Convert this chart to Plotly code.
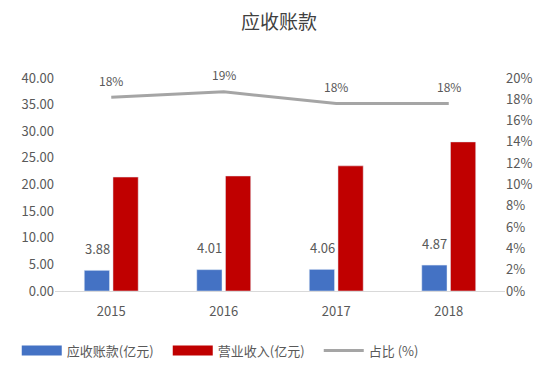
import plotly.graph_objects as go

years = ["2015", "2016", "2017", "2018"]
receivables = [3.88, 4.01, 4.06, 4.87]
revenue = [21.4, 21.6, 23.5, 28.0]
ratio = [18.2, 18.7, 17.6, 17.6]
ratio_labels = ["18%", "19%", "18%", "18%"]
left_ticks = [0, 5, 10, 15, 20, 25, 30, 35, 40]
right_ticks = [0, 2, 4, 6, 8, 10, 12, 14, 16, 18, 20]

FONT = "Noto Sans CJK SC"
TXT = "#595959"
BLUE, RED, GRAY = "#4472C4", "#C00000", "#A5A5A5"

fig = go.Figure()
fig.add_trace(go.Bar(x=years, y=receivables, name="应收账款(亿元)",
                     marker_color=BLUE, showlegend=False))
fig.add_trace(go.Bar(x=years, y=revenue, name="营业收入(亿元)",
                     marker_color=RED, showlegend=False))
fig.add_trace(go.Scatter(x=years, y=ratio, name="占比 (%)", yaxis="y2",
                         mode="lines", line=dict(color=GRAY, width=3),
                         showlegend=False))

# legend entries (wide swatches like the reference)
for nm, col, w in [("应收账款(亿元)", BLUE, 10), ("营业收入(亿元)", RED, 10), ("占比 (%)", GRAY, 3)]:
    fig.add_trace(go.Scatter(x=[years[0]], y=[None], mode="lines", name=nm,
                             line=dict(color=col, width=w)))

# value labels (category index positions)
for i, v in enumerate(receivables):
    fig.add_annotation(x=i, y=v, text=f"{v:.2f}", showarrow=False, xshift=-14,
                       yshift=22, font=dict(size=13, color=TXT, family=FONT))
for i, (v, t) in enumerate(zip(ratio, ratio_labels)):
    fig.add_annotation(x=i, y=v, yref="y2", text=t, showarrow=False,
                       yshift=17, font=dict(size=12, color=TXT, family=FONT))

fig.update_layout(
    width=542, height=362,
    margin=dict(l=47, r=45, t=70, b=79, autoexpand=False),
    paper_bgcolor="white", plot_bgcolor="white",
    font=dict(family=FONT, color=TXT, size=13),
    title=dict(text="应收账款", x=0.5, xanchor="center", y=0.96, yanchor="middle",
               font=dict(size=19, color="#404040", family=FONT)),
    barmode="group", bargap=0.49, bargroupgap=0.12,
    showlegend=True,
    legend=dict(orientation="h", x=-0.085, xanchor="left", y=-0.28, yanchor="middle",
                font=dict(size=13, color=TXT, family=FONT), itemwidth=40,
                entrywidth=96, entrywidthmode="pixels"),
    xaxis=dict(type="category", categoryorder="array", categoryarray=years,
               range=[-0.5, len(years) - 0.5],
               showline=True, linecolor="#D9D9D9", linewidth=1, ticks="",
               ticklabelstandoff=8, tickfont=dict(size=13, color=TXT)),
    yaxis=dict(range=[0, 40], tickvals=left_ticks, tickformat=".2f", showgrid=False,
               zeroline=False, ticks="", tickfont=dict(size=13, color=TXT)),
    yaxis2=dict(range=[0, 20], tickvals=right_ticks,
                ticktext=[f"{v}%" for v in right_ticks], overlaying="y",
                side="right", showgrid=False, zeroline=False, ticks="",
                tickfont=dict(size=13, color=TXT)),
)

fig.write_html("out.html")
